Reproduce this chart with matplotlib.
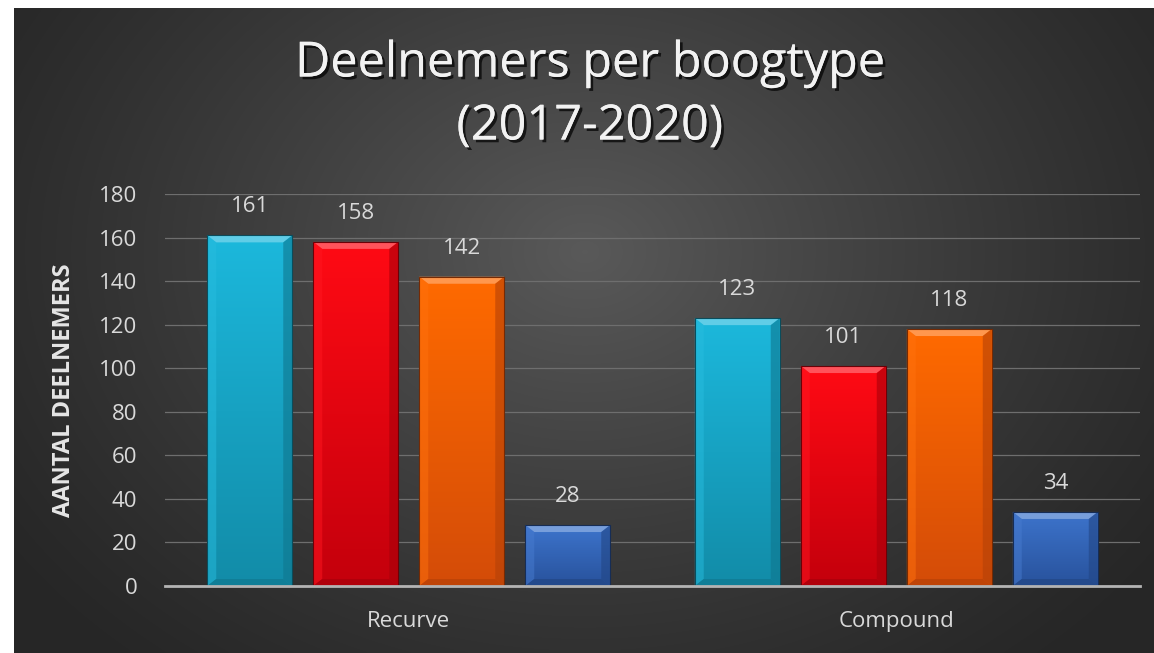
import numpy as np
import matplotlib
matplotlib.use("Agg")
import matplotlib.pyplot as plt
from matplotlib.patches import Rectangle, Polygon
import matplotlib.patheffects as pe
from matplotlib.colors import to_rgb

plt.rcParams['font.family'] = ['Open Sans', 'DejaVu Sans']

# ---- data ----
categories = ["Recurve", "Compound"]
series_names = ["2017", "2018", "2019", "2020"]
values_2017 = [161, 123]
values_2018 = [158, 101]
values_2019 = [142, 118]
values_2020 = [28, 34]
series_values = [values_2017, values_2018, values_2019, values_2020]
yticks = [0, 20, 40, 60, 80, 100, 120, 140, 160, 180]
title = "Deelnemers per boogtype\n(2017-2020)"
ylabel = "AANTAL DEELNEMERS"

# ---- style ----
top_colors = ["#1cb8dc", "#ff0a14", "#ff6a00", "#3d74cc"]
bot_colors = ["#128ca8", "#c4000c", "#d44c08", "#28529c"]

W, H = 1154, 653
fig = plt.figure(figsize=(W / 100, H / 100), dpi=100)
fig.patch.set_facecolor("white")

# background radial gradient
bg = fig.add_axes([14 / W, 0, 1 - 14 / W, (H - 8) / H], zorder=-10)
bg.set_axis_off()
ny, nx = 300, 560
yy, xx = np.mgrid[0:ny, 0:nx]
cx, cy = nx * 0.5, ny * 0.62
d = np.sqrt(((xx - cx) / (nx * 0.62)) ** 2 + ((yy - cy) / (ny * 0.85)) ** 2)
d = np.clip(d, 0, 1)
c_in, c_out = 0.35, 0.15
g = c_out + (c_in - c_out) * (1 - d) ** 1.2
img = np.dstack([g, g, g])
bg.imshow(img, extent=(0, 1, 0, 1), origin="lower", aspect="auto", interpolation="bilinear")
bg.set_xlim(0, 1)
bg.set_ylim(0, 1)

ax = fig.add_axes([165 / W, 67 / H, 975 / W, 392 / H])
ax.set_facecolor("none")
n = len(series_values)
ymax = 180
ax.set_xlim(-0.5, len(categories) - 0.5)
ax.set_ylim(0, ymax)

bw = 85 / 487.5
step = 106 / 487.5
px_x = 1 / 487.5
px_y = ymax / 392.0
bev_x = 9 * px_x
bev_y = 7 * px_y


def lighten(c, f):
    r = np.array(to_rgb(c))
    return tuple(r + (1 - r) * f)


def darken(c, f):
    r = np.array(to_rgb(c))
    return tuple(r * (1 - f))


for si, vals in enumerate(series_values):
    for ci, v in enumerate(vals):
        x0 = ci + (si - (n - 1) / 2) * step - bw / 2
        x1 = x0 + bw
        rect = Rectangle((x0, 0), bw, v, facecolor="none", edgecolor=darken(bot_colors[si], 0.45),
                         linewidth=0.8, zorder=3)
        ax.add_patch(rect)
        t = np.linspace(0, 1, 64).reshape(-1, 1)
        ct = np.array(to_rgb(top_colors[si]))
        cb = np.array(to_rgb(bot_colors[si]))
        grad = (cb * (1 - t) + ct * t)[:, None, :]
        im = ax.imshow(grad, extent=(x0, x1, 0, v), origin="lower", aspect="auto",
                       interpolation="bilinear", zorder=2)
        im.set_clip_path(rect)
        # bevels
        top = Polygon([(x0, v), (x1, v), (x1 - bev_x, v - bev_y), (x0 + bev_x, v - bev_y)],
                      closed=True, facecolor=lighten(top_colors[si], 0.3), edgecolor="none", zorder=2.5)
        ax.add_patch(top)
        left = Polygon([(x0, v), (x0 + bev_x, v - bev_y), (x0 + bev_x, bev_y), (x0, 0)],
                       closed=True, facecolor=lighten(top_colors[si], 0.05), edgecolor="none",
                       alpha=0.5, zorder=2.5)
        ax.add_patch(left)
        right = Polygon([(x1, v), (x1 - bev_x, v - bev_y), (x1 - bev_x, bev_y), (x1, 0)],
                        closed=True, facecolor=darken(bot_colors[si], 0.15), edgecolor="none",
                        alpha=0.6, zorder=2.5)
        ax.add_patch(right)
        bottom = Polygon([(x0, 0), (x1, 0), (x1 - bev_x, bev_y), (x0 + bev_x, bev_y)],
                         closed=True, facecolor=darken(bot_colors[si], 0.1), edgecolor="none",
                         zorder=2.5)
        ax.add_patch(bottom)
        ax.annotate(str(v), xy=((x0 + x1) / 2, v), xytext=(0, 13), textcoords="offset points",
                    ha="center", va="bottom", color="#d9d9d9", fontsize=16)

ax.set_xlim(-0.5, len(categories) - 0.5)
ax.set_ylim(0, ymax)

ax.set_yticks(yticks)
ax.set_yticklabels([str(t) for t in yticks])
ax.set_xticks(range(len(categories)))
ax.set_xticklabels(categories)
ax.tick_params(axis="y", length=0, pad=20, labelsize=16, labelcolor="#d9d9d9")
ax.tick_params(axis="x", length=0, pad=18, labelsize=16, labelcolor="#d9d9d9")
ax.grid(axis="y", color="#6e6e6e", linewidth=0.9, zorder=0)
ax.set_axisbelow(True)
for s in ["top", "right", "left"]:
    ax.spines[s].set_visible(False)
ax.spines["bottom"].set_color("#b4b4b4")
ax.spines["bottom"].set_linewidth(2)
ax.spines["bottom"].set_zorder(4)

ax.set_ylabel(ylabel, color="#e6e6e6", fontsize=17, fontweight="bold")
ax.yaxis.set_label_coords(-(165 - 76) / 975, 0.5)

fig.text(590 / W, 1 - 95 / H, title, ha="center", va="center", color="#f2f2f2",
         fontsize=35, linespacing=1.36,
         path_effects=[pe.withSimplePatchShadow(offset=(2, -2), shadow_rgbFace="black", alpha=0.7),
                       pe.Normal()])

fig.savefig("out.png", dpi=100, facecolor=fig.get_facecolor())
